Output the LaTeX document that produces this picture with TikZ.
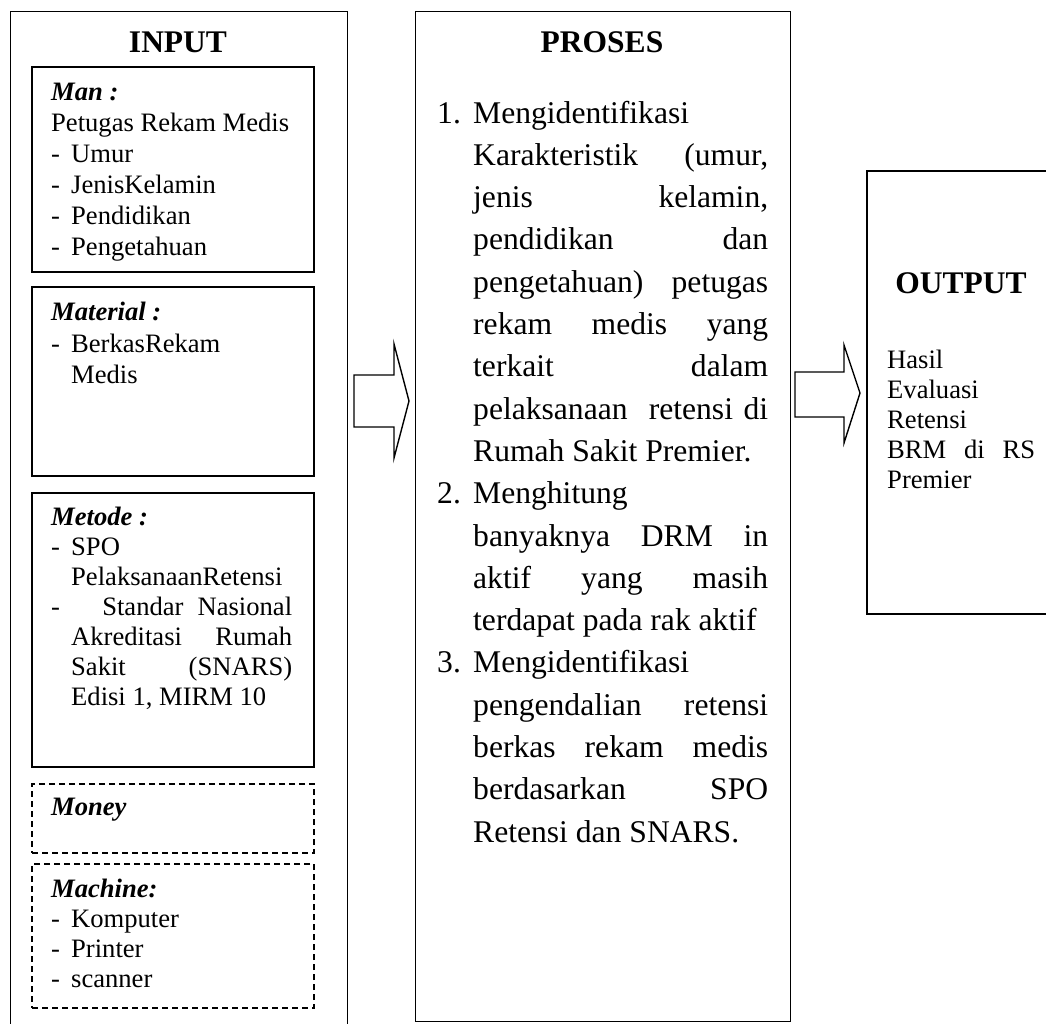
\documentclass[tikz,border=0pt]{standalone}
\usepackage{fontspec}
\setmainfont{Liberation Serif}
\newcommand\fsin{\fontsize{26.6}{31}\selectfont}
\newcommand\fspr{\fontsize{31.6}{42}\selectfont}
\newcommand\fsti{\fontsize{31.5}{36}\selectfont\bfseries}
\newcommand\dsh{\makebox[20pt][l]{-}}
\begin{document}
\begin{tikzpicture}[x=1pt,y=-1pt,
  box/.style={draw,line width=1.4pt,inner sep=0pt,anchor=north west},
  ibox/.style={box,line width=2pt},
  dbox/.style={ibox,dash pattern=on 6pt off 4pt},
  txt/.style={anchor=base west,inner sep=0pt,font=\fsin},
  ptxt/.style={anchor=base west,inner sep=0pt,font=\fspr},
  ttl/.style={anchor=base,inner sep=0pt,font=\fsti},
  barrow/.style={draw,line width=1.4pt,line join=miter,fill=white}]
\useasboundingbox (0,0) rectangle (1046,1023);
\clip (0,0) rectangle (1046,1023);
% boxes
\node[box,minimum width=337pt,minimum height=1040pt] (input) at (10,11) {};
\node[ibox,minimum width=282pt,minimum height=205pt] (man) at (31,66) {};
\node[ibox,minimum width=282pt,minimum height=189pt] (material) at (31,286) {};
\node[ibox,minimum width=282pt,minimum height=274pt] (metode) at (31,492) {};
\node[dbox,minimum width=282pt,minimum height=69pt] (money) at (31,783) {};
\node[dbox,minimum width=282pt,minimum height=144pt] (machine) at (31,863) {};
\node[box,minimum width=375pt,minimum height=1010pt] (proses) at (415,11) {};
\node[ibox,minimum width=220pt,minimum height=443pt] (output) at (866,170) {};
% block arrows
\draw[barrow] (354,375) -- (394,375) -- (394,344) -- (409,401) -- (394,458) -- (394,427) -- (354,427) -- cycle;
\draw[barrow] (795,372) -- (844,372) -- (844,345) -- (860,393) -- (844,443) -- (844,417) -- (795,417) -- cycle;
% titles
\node[ttl] (tin) at (178,52) {INPUT};
\node[ttl] (tpr) at (602,52) {PROSES};
\node[ttl] (tout) at (961,293) {OUTPUT};
% Man
\node[txt] (m1) at (51,100) {\textbf{\textit{Man :}}};
\node[txt] (m2) at (51,131) {Petugas Rekam Medis};
\node[txt] (m3) at (51,162) {\dsh Umur};
\node[txt] (m4) at (51,193) {\dsh JenisKelamin};
\node[txt] (m5) at (51,224) {\dsh Pendidikan};
\node[txt] (m6) at (51,255) {\dsh Pengetahuan};
% Material
\node[txt] (ma1) at (51,320) {\textbf{\textit{Material :}}};
\node[txt] (ma2) at (51,352) {\dsh BerkasRekam};
\node[txt] (ma3) at (71,383) {Medis};
% Metode
\node[txt] (me1) at (51,525) {\textbf{\textit{Metode :}}};
\node[txt] (me2) at (51,555) {\dsh SPO};
\node[txt] (me3) at (71,585) {PelaksanaanRetensi};
\node[txt] (me4) at (51,615) {\makebox[241pt][s]{-\ \ \ Standar Nasional}};
\node[txt] (me5) at (71,645) {\makebox[221pt][s]{Akreditasi Rumah}};
\node[txt] (me6) at (71,675) {\makebox[221pt][s]{Sakit (SNARS)}};
\node[txt] (me7) at (71,705) {Edisi 1, MIRM 10};
% Money
\node[txt] (mo1) at (51,815) {\textbf{\textit{Money}}};
% Machine
\node[txt] (mc1) at (51,897) {\textbf{\textit{Machine:}}};
\node[txt] (mc2) at (51,927) {\dsh Komputer};
\node[txt] (mc3) at (51,957) {\dsh Printer};
\node[txt] (mc4) at (51,987) {\dsh scanner};
% Proses
\node[ptxt] (n1) at (437,123) {1.};
\node[ptxt] (p1) at (473,123) {Mengidentifikasi};
\node[ptxt] (p2) at (473,165.3) {\makebox[295pt][s]{Karakteristik (umur,}};
\node[ptxt] (p3) at (473,207.6) {\makebox[295pt][s]{jenis kelamin,}};
\node[ptxt] (p4) at (473,249.9) {\makebox[295pt][s]{pendidikan dan}};
\node[ptxt] (p5) at (473,292.2) {\makebox[295pt][s]{pengetahuan) petugas}};
\node[ptxt] (p6) at (473,334.5) {\makebox[295pt][s]{rekam medis yang}};
\node[ptxt] (p7) at (473,376.8) {\makebox[295pt][s]{terkait dalam}};
\node[ptxt] (p8) at (473,419.1) {\makebox[295pt][s]{pelaksanaan\ \ retensi di}};
\node[ptxt] (p9) at (473,461.4) {Rumah Sakit Premier.};
\node[ptxt] (n2) at (437,503.7) {2.};
\node[ptxt] (p10) at (473,503.7) {Menghitung};
\node[ptxt] (p11) at (473,546) {\makebox[295pt][s]{banyaknya DRM in}};
\node[ptxt] (p12) at (473,588.3) {\makebox[295pt][s]{aktif yang masih}};
\node[ptxt] (p13) at (473,630.6) {terdapat pada rak aktif};
\node[ptxt] (n3) at (437,672.9) {3.};
\node[ptxt] (p14) at (473,672.9) {Mengidentifikasi};
\node[ptxt] (p15) at (473,715.2) {\makebox[295pt][s]{pengendalian retensi}};
\node[ptxt] (p16) at (473,757.5) {\makebox[295pt][s]{berkas rekam medis}};
\node[ptxt] (p17) at (473,799.8) {\makebox[295pt][s]{berdasarkan SPO}};
\node[ptxt] (p18) at (473,842.1) {Retensi dan SNARS.};
% Output
\node[txt] (o1) at (887,368) {Hasil};
\node[txt] (o2) at (887,398) {Evaluasi};
\node[txt] (o3) at (887,428) {Retensi};
\node[txt] (o4) at (887,458) {\makebox[148pt][s]{BRM di RS}};
\node[txt] (o5) at (887,488) {Premier};
\end{tikzpicture}
\end{document}
